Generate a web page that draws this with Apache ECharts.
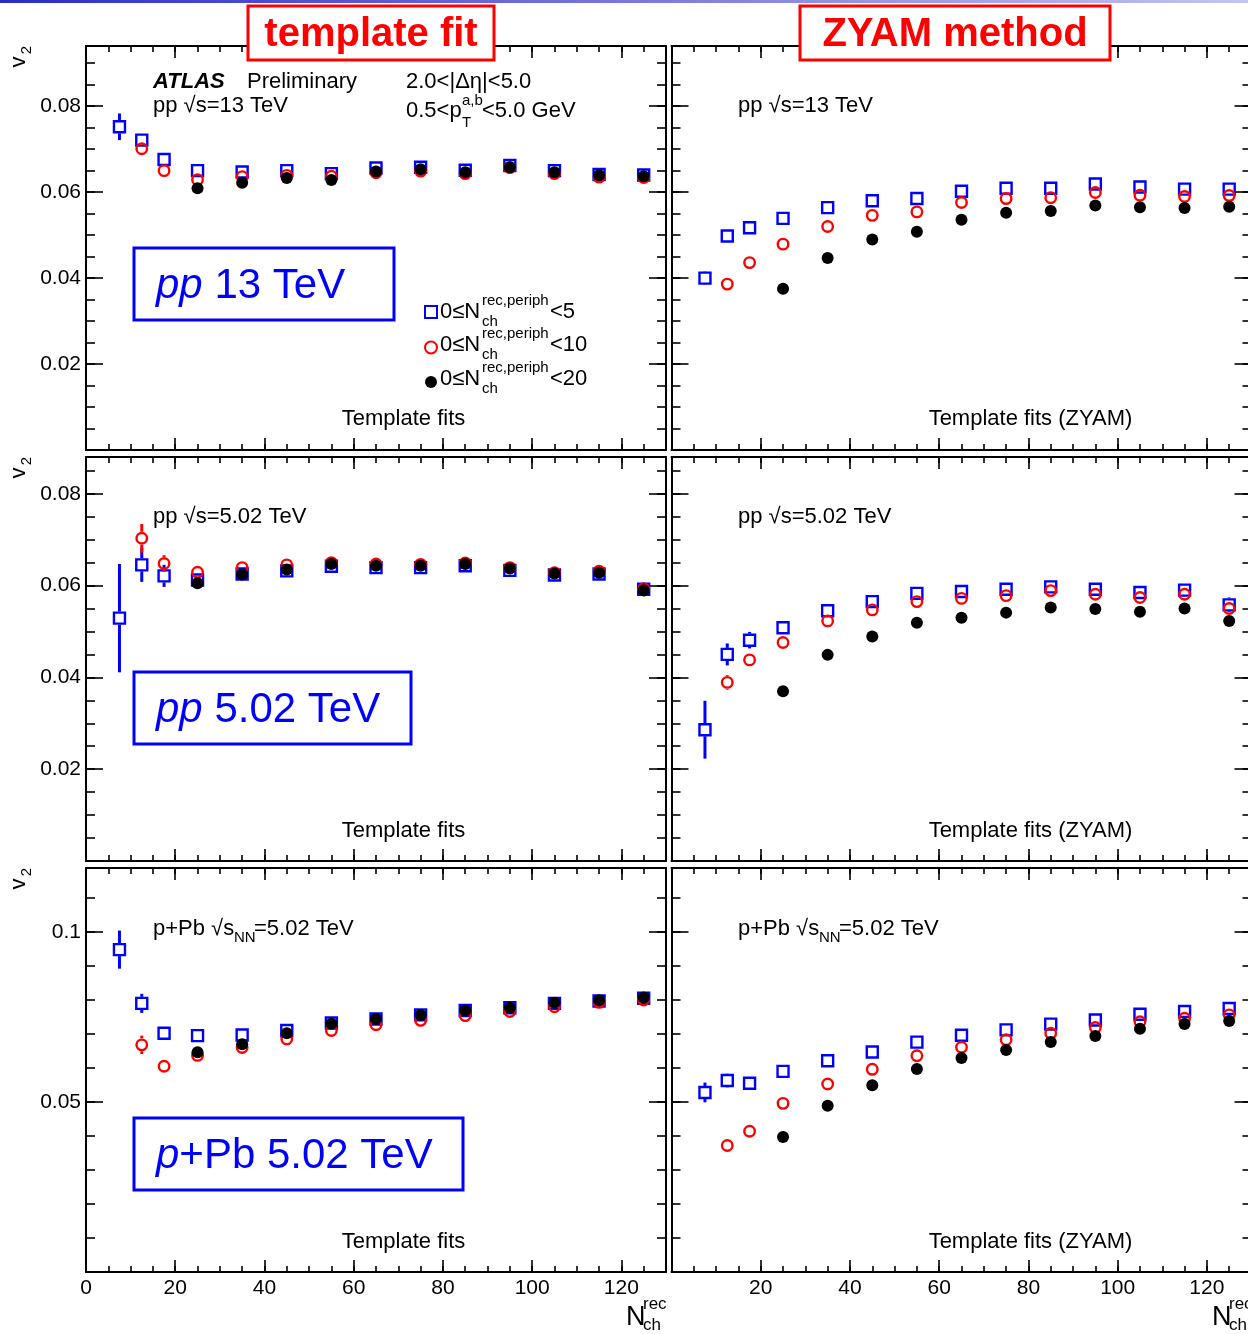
<!DOCTYPE html>
<html><head><meta charset="utf-8">
<script src="https://cdn.jsdelivr.net/npm/echarts@6/dist/echarts.min.js"></script>
<style>html,body{margin:0;padding:0;background:#fff}#c{width:1248px;height:1334px}</style>
</head><body><div id="c"></div>
<script>
// ---------- DATA ----------
const nch = [7.5, 12.5, 17.5, 25, 35, 45, 55, 65, 75, 85, 95, 105, 115, 125];

// pp 13 TeV - template fit
const pp13TF_lt5  = [0.0752, 0.0721, 0.0676, 0.0650, 0.0647, 0.0650, 0.0643, 0.0656, 0.0658, 0.0651, 0.0662, 0.0650, 0.0641, 0.0640];
const pp13TF_lt10 = [null, 0.0701, 0.0650, 0.0629, 0.0636, 0.0639, 0.0637, 0.0645, 0.0649, 0.0643, 0.0657, 0.0643, 0.0635, 0.0634];
const pp13TF_lt20 = [null, null, null, 0.0609, 0.0622, 0.0633, 0.0628, 0.0648, 0.0653, 0.0646, 0.0658, 0.0646, 0.0639, 0.0637];
const pp13TF_lt5_err  = [0.0031, 0.0008, 0, 0, 0, 0, 0, 0, 0, 0, 0, 0, 0, 0];
const pp13TF_lt10_err = [0, 0, 0, 0, 0, 0, 0, 0, 0, 0, 0, 0, 0, 0];
const pp13TF_lt20_err = [0, 0, 0, 0, 0, 0, 0, 0, 0, 0, 0, 0, 0, 0];

// pp 13 TeV - ZYAM
const pp13ZY_lt5  = [0.0400, 0.0498, 0.0517, 0.0539, 0.0564, 0.0580, 0.0585, 0.0602, 0.0609, 0.0609, 0.0619, 0.0612, 0.0607, 0.0607];
const pp13ZY_lt10 = [null, 0.0386, 0.0436, 0.0479, 0.0520, 0.0546, 0.0554, 0.0576, 0.0585, 0.0587, 0.0599, 0.0593, 0.0590, 0.0592];
const pp13ZY_lt20 = [null, null, null, 0.0375, 0.0447, 0.0490, 0.0508, 0.0536, 0.0552, 0.0556, 0.0569, 0.0565, 0.0563, 0.0566];
const pp13ZY_lt5_err  = [0.0016, 0, 0, 0, 0, 0, 0, 0, 0, 0, 0, 0, 0, 0];
const pp13ZY_lt10_err = [0, 0, 0, 0, 0, 0, 0, 0, 0, 0, 0, 0, 0, 0];
const pp13ZY_lt20_err = [0, 0, 0, 0, 0, 0, 0, 0, 0, 0, 0, 0, 0, 0];

// pp 5.02 TeV - template fit
const pp5TF_lt5  = [0.0529, 0.0645, 0.0621, 0.0612, 0.0625, 0.0632, 0.0642, 0.0639, 0.0639, 0.0643, 0.0633, 0.0623, 0.0625, 0.0592];
const pp5TF_lt10 = [null, 0.0703, 0.0648, 0.0629, 0.0639, 0.0645, 0.0650, 0.0647, 0.0646, 0.0649, 0.0639, 0.0628, 0.0631, 0.0593];
const pp5TF_lt20 = [null, null, null, 0.0605, 0.0624, 0.0635, 0.0647, 0.0643, 0.0643, 0.0647, 0.0637, 0.0626, 0.0628, 0.0590];
const pp5TF_lt5_err  = [0.0118, 0.0037, 0.0024, 0.0012, 0, 0, 0, 0, 0, 0, 0, 0, 0, 0.0013];
const pp5TF_lt10_err = [0, 0.0031, 0.0018, 0, 0, 0, 0, 0, 0, 0, 0, 0, 0, 0.0010];
const pp5TF_lt20_err = [0, 0, 0, 0, 0, 0, 0, 0, 0, 0, 0, 0, 0, 0.0015];

// pp 5.02 TeV - ZYAM
const pp5ZY_lt5  = [0.0286, 0.0450, 0.0481, 0.0508, 0.0545, 0.0565, 0.0583, 0.0587, 0.0592, 0.0597, 0.0592, 0.0585, 0.0590, 0.0558];
const pp5ZY_lt10 = [null, 0.0389, 0.0438, 0.0476, 0.0523, 0.0547, 0.0565, 0.0572, 0.0578, 0.0589, 0.0581, 0.0574, 0.0581, 0.0550];
const pp5ZY_lt20 = [null, null, null, 0.0370, 0.0449, 0.0489, 0.0519, 0.0530, 0.0541, 0.0552, 0.0549, 0.0543, 0.0550, 0.0523];
const pp5ZY_lt5_err  = [0.0063, 0.0024, 0.0018, 0.0012, 0, 0, 0, 0, 0, 0, 0, 0, 0, 0.0016];
const pp5ZY_lt10_err = [0, 0.0016, 0, 0, 0, 0, 0, 0, 0, 0, 0, 0, 0, 0];
const pp5ZY_lt20_err = [0, 0, 0, 0, 0, 0, 0, 0, 0, 0, 0, 0, 0, 0.0014];

// p+Pb 5.02 TeV - template fit
const pPbTF_lt5  = [0.0948, 0.0790, 0.0702, 0.0695, 0.0697, 0.0710, 0.0732, 0.0744, 0.0756, 0.0769, 0.0777, 0.0790, 0.0797, 0.0805];
const pPbTF_lt10 = [null, 0.0668, 0.0605, 0.0637, 0.0660, 0.0685, 0.0710, 0.0727, 0.0740, 0.0754, 0.0766, 0.0780, 0.0793, 0.0800];
const pPbTF_lt20 = [null, null, null, 0.0646, 0.0670, 0.0702, 0.0730, 0.0744, 0.0756, 0.0769, 0.0777, 0.0792, 0.0799, 0.0807];
const pPbTF_lt5_err  = [0.0056, 0.0028, 0.0012, 0, 0, 0, 0, 0, 0, 0, 0, 0, 0, 0];
const pPbTF_lt10_err = [0, 0.0027, 0, 0, 0, 0, 0, 0, 0, 0, 0, 0, 0, 0];
const pPbTF_lt20_err = [0, 0, 0, 0, 0, 0, 0, 0, 0, 0, 0, 0, 0, 0];

// p+Pb 5.02 TeV - ZYAM
const pPbZY_lt5  = [0.0528, 0.0563, 0.0555, 0.0590, 0.0621, 0.0647, 0.0676, 0.0696, 0.0712, 0.0729, 0.0741, 0.0758, 0.0766, 0.0775];
const pPbZY_lt10 = [null, 0.0372, 0.0414, 0.0496, 0.0553, 0.0596, 0.0636, 0.0661, 0.0683, 0.0702, 0.0719, 0.0736, 0.0746, 0.0756];
const pPbZY_lt20 = [null, null, null, 0.0397, 0.0489, 0.0549, 0.0597, 0.0629, 0.0653, 0.0676, 0.0694, 0.0715, 0.0729, 0.0738];
const pPbZY_lt5_err  = [0.0029, 0.0020, 0, 0, 0, 0, 0, 0, 0, 0, 0, 0, 0, 0];
const pPbZY_lt10_err = [0, 0, 0, 0, 0, 0, 0, 0, 0, 0, 0, 0, 0, 0];
const pPbZY_lt20_err = [0, 0, 0, 0, 0, 0, 0, 0, 0, 0, 0, 0, 0, 0];

// tick labels
const xTickLabelsLeft  = ['0', '20', '40', '60', '80', '100', '120'];
const xTickLabelsRight = ['20', '40', '60', '80', '100', '120'];
const yTickLabelsPP  = ['0.02', '0.04', '0.06', '0.08'];
const yTickLabelsPPb = ['0.05', '0.1'];

const seriesNames = ['0≤N<5', '0≤N<10', '0≤N<20'];
const legendCuts = ['<5', '<10', '<20'];

// ---------- LAYOUT ----------
const FONT = '"Liberation Sans", Arial, Helvetica, sans-serif';
const rowTop = [46, 457, 868];
const rowH = 404;
const colLeft = [86, 671.5];
const colW = 580;
const rowYMax = [0.094, 0.088, 0.1188];
const rowYMajor = [0.02, 0.02, 0.05];
const rowYMinor = [0.005, 0.005, 0.01];
const rowYLabels = [yTickLabelsPP, yTickLabelsPP, yTickLabelsPPb];

const panels = [
  {row: 0, col: 0, v: [pp13TF_lt5, pp13TF_lt10, pp13TF_lt20], e: [pp13TF_lt5_err, pp13TF_lt10_err, pp13TF_lt20_err]},
  {row: 0, col: 1, v: [pp13ZY_lt5, pp13ZY_lt10, pp13ZY_lt20], e: [pp13ZY_lt5_err, pp13ZY_lt10_err, pp13ZY_lt20_err]},
  {row: 1, col: 0, v: [pp5TF_lt5, pp5TF_lt10, pp5TF_lt20], e: [pp5TF_lt5_err, pp5TF_lt10_err, pp5TF_lt20_err]},
  {row: 1, col: 1, v: [pp5ZY_lt5, pp5ZY_lt10, pp5ZY_lt20], e: [pp5ZY_lt5_err, pp5ZY_lt10_err, pp5ZY_lt20_err]},
  {row: 2, col: 0, v: [pPbTF_lt5, pPbTF_lt10, pPbTF_lt20], e: [pPbTF_lt5_err, pPbTF_lt10_err, pPbTF_lt20_err]},
  {row: 2, col: 1, v: [pPbZY_lt5, pPbZY_lt10, pPbZY_lt20], e: [pPbZY_lt5_err, pPbZY_lt10_err, pPbZY_lt20_err]}
];

const markerStyles = [
  {symbol: 'rect', symbolSize: 11, itemStyle: {color: 'rgba(0,0,0,0)', borderColor: '#0000ff', borderWidth: 2.4, opacity: 1}, err: '#0000ff', errW: 3, z: 3},
  {symbol: 'circle', symbolSize: 10.5, itemStyle: {color: 'rgba(0,0,0,0)', borderColor: '#ff0000', borderWidth: 2.4, opacity: 1}, err: '#ff0000', errW: 3, z: 4},
  {symbol: 'circle', symbolSize: 12, itemStyle: {color: '#000000', borderWidth: 0, opacity: 1}, err: '#000000', errW: 2.5, z: 5}
];

function fmtFactory(labels) {
  return v => { const s = String(+(+v).toFixed(4)); return labels.includes(s) ? s : ''; };
}

const grids = [], xAxes = [], yAxes = [], series = [];
panels.forEach((p, g) => {
  grids.push({left: colLeft[p.col], top: rowTop[p.row], width: colW, height: rowH, containLabel: false, outerBoundsMode: 'none'});
  const showX = p.row === 2;
  const xLabels = p.col === 0 ? xTickLabelsLeft : xTickLabelsRight;
  const mkX = (pos, major, labels) => ({
    type: 'value', gridIndex: g, position: pos, min: 0, max: 130, interval: major ? 20 : 5,
    axisLine: {show: major, onZero: false, lineStyle: {color: '#000', width: 2}},
    axisTick: {show: true, inside: true, length: major ? 12 : 6, lineStyle: {color: '#000', width: 1.6}},
    axisLabel: {show: !!labels, color: '#000', fontSize: 21, fontFamily: FONT, margin: 6,
      formatter: labels ? fmtFactory(labels) : undefined},
    splitLine: {show: false}, minorTick: {show: false}
  });
  const xb = xAxes.length;
  xAxes.push(mkX('bottom', true, showX ? xLabels : null));
  xAxes.push(mkX('bottom', false, null));
  xAxes.push(mkX('top', true, null));
  xAxes.push(mkX('top', false, null));
  const mkY = (pos, major, labels) => ({
    type: 'value', gridIndex: g, position: pos, min: 0, max: rowYMax[p.row],
    interval: major ? rowYMajor[p.row] : rowYMinor[p.row],
    axisLine: {show: major, onZero: false, lineStyle: {color: '#000', width: 2}},
    axisTick: {show: true, inside: true, length: major ? 17 : 9, lineStyle: {color: '#000', width: 1.6}},
    axisLabel: {show: !!labels, color: '#000', fontSize: 21, fontFamily: FONT, margin: 5,
      formatter: labels ? fmtFactory(labels) : undefined},
    splitLine: {show: false}, minorTick: {show: false}
  });
  const yb = yAxes.length;
  yAxes.push(mkY('left', true, p.col === 0 ? rowYLabels[p.row] : null));
  yAxes.push(mkY('left', false, null));
  yAxes.push(mkY('right', true, null));
  yAxes.push(mkY('right', false, null));

  p.v.forEach((vals, k) => {
    const ms = markerStyles[k];
    series.push({
      type: 'scatter', name: seriesNames[k], xAxisIndex: xb, yAxisIndex: yb,
      data: nch.map((x, i) => [x, vals[i]]).filter(d => d[1] != null),
      symbol: ms.symbol, symbolSize: ms.symbolSize, itemStyle: ms.itemStyle, z: ms.z, silent: true
    });
    const errs = p.e[k];
    series.push({
      type: 'custom', name: seriesNames[k] + ' err', xAxisIndex: xb, yAxisIndex: yb, z: ms.z, silent: true,
      encode: {x: 0, y: 1},
      data: nch.map((x, i) => [x, vals[i], errs[i]]).filter(d => d[1] != null && d[2] > 0),
      renderItem: (params, api) => {
        const x = api.value(0), y = api.value(1), e = api.value(2);
        const c = api.coord([x, y]), hi = api.coord([x, y + e]), lo = api.coord([x, y - e]);
        const gap = 6.5, children = [];
        const st = {stroke: ms.err, lineWidth: ms.errW};
        if (c[1] - hi[1] > gap) children.push({type: 'line', shape: {x1: c[0], y1: hi[1], x2: c[0], y2: c[1] - gap}, style: st});
        if (lo[1] - c[1] > gap) children.push({type: 'line', shape: {x1: c[0], y1: c[1] + gap, x2: c[0], y2: lo[1]}, style: st});
        return {type: 'group', children};
      }
    });
  });
});

// ---------- ANNOTATIONS ----------
const G = [];
function txt(text, x, y, size, opts = {}) {
  G.push({type: 'text', x, y, z: 50, silent: true, style: Object.assign({
    text, font: `${opts.style || 'normal'} ${opts.weight || 'normal'} ${size}px ${FONT}`,
    fill: opts.fill || '#000', align: opts.align || 'left', verticalAlign: 'middle',
    textAlign: opts.align || 'left', textVerticalAlign: 'middle'
  }, opts.extra || {})});
}
// top strip
G.push({type: 'rect', silent: true, z: 1, shape: {x: 0, y: 0, width: 1248, height: 3},
  style: {fill: {type: 'linear', x: 0, y: 0, x2: 1, y2: 0, colorStops: [{offset: 0, color: '#2b2bc8'}, {offset: 1, color: '#c4c4f2'}]}}});
// titles
G.push({type: 'rect', silent: true, z: 60, shape: {x: 248, y: 6, width: 246, height: 54}, style: {fill: '#fff', stroke: '#ff0000', lineWidth: 3}});
G.push({type: 'rect', silent: true, z: 60, shape: {x: 800, y: 6, width: 310, height: 54}, style: {fill: '#fff', stroke: '#ff0000', lineWidth: 3}});
G.push({type: 'text', x: 371, y: 35, z: 61, silent: true, style: {text: 'template fit', font: `bold 40px ${FONT}`, fill: '#ff0000', align: 'center', verticalAlign: 'middle', textAlign: 'center', textVerticalAlign: 'middle'}});
G.push({type: 'text', x: 955, y: 35, z: 61, silent: true, style: {text: 'ZYAM method', font: `bold 40px ${FONT}`, fill: '#ff0000', align: 'center', verticalAlign: 'middle', textAlign: 'center', textVerticalAlign: 'middle'}});

// v2 labels
rowTop.forEach(t => {
  G.push({type: 'group', x: 19, y: t + 16, rotation: Math.PI / 2, silent: true, children: [
    {type: 'text', x: 0, y: 0, style: {text: 'v', font: `22px ${FONT}`, fill: '#000', align: 'center', verticalAlign: 'middle', textAlign: 'center', textVerticalAlign: 'middle'}},
    {type: 'text', x: 12, y: 8, style: {text: '2', font: `15px ${FONT}`, fill: '#000', align: 'center', verticalAlign: 'middle', textAlign: 'center', textVerticalAlign: 'middle'}}
  ]});
});
// x axis titles
[626, 1212].forEach(x0 => {
  txt('N', x0, 1318, 27);
  txt('rec', x0 + 17, 1304, 17);
  txt('ch', x0 + 17, 1325, 17);
});

// panel 1 header
txt('ATLAS', 153, 82, 22, {style: 'italic', weight: 'bold'});
txt('Preliminary', 247, 82, 22);
txt('2.0<|Δη|<5.0', 406, 82, 22);
txt('0.5<p', 406, 111, 22);
txt('a,b', 462, 101, 15);
txt('T', 462, 123, 15);
txt('<5.0 GeV', 482, 111, 22);
// energy labels
[153, 738].forEach(x0 => {
  txt('pp √s=13 TeV', x0, 106, 22);
  txt('pp √s=5.02 TeV', x0, 517, 22);
  txt('p+Pb √s', x0, 929, 22);
  txt('NN', x0 + 81, 938, 15);
  txt('=5.02 TeV', x0 + 101, 929, 22);
});
// method labels
[419, 831, 1242].forEach(y => {
  txt('Template fits', 403.5, y, 22, {align: 'center'});
  txt('Template fits (ZYAM)', 1030.5, y, 22, {align: 'center'});
});
// legend texts
[311, 344, 378].forEach((y, k) => {
  txt('0≤N', 440, y + 1, 22);
  txt('rec,periph', 482, y - 10, 15);
  txt('ch', 482, y + 11, 15);
  txt(legendCuts[k], 550, y + 1, 22);
});
// blue boxes
const boxes = [
  {x: 134, y: 248, w: 260, h: 72, it: 'pp', rest: ' 13 TeV'},
  {x: 134, y: 672, w: 277, h: 72, it: 'pp', rest: ' 5.02 TeV'},
  {x: 134, y: 1118, w: 329, h: 72, it: 'p', rest: '+Pb 5.02 TeV'}
];
boxes.forEach(b => {
  G.push({type: 'rect', silent: true, z: 40, shape: {x: b.x, y: b.y, width: b.w, height: b.h}, style: {fill: 'none', stroke: '#0000ff', lineWidth: 3}});
  G.push({type: 'text', x: b.x + 22, y: b.y + b.h / 2 + 2, z: 41, silent: true, style: {
    text: `{i|${b.it}}{n|${b.rest}}`, align: 'left', verticalAlign: 'middle', textAlign: 'left', textVerticalAlign: 'middle',
    rich: {i: {fontStyle: 'italic', fontSize: 42, fontFamily: FONT, fill: '#0000ff', color: '#0000ff'},
           n: {fontSize: 42, fontFamily: FONT, fill: '#0000ff', color: '#0000ff'}}
  }});
});

const chart = echarts.init(document.getElementById('c'), null, {renderer: 'canvas'});
chart.setOption({
  animation: false,
  backgroundColor: '#fff',
  textStyle: {fontFamily: FONT},
  grid: grids,
  xAxis: xAxes,
  yAxis: yAxes,
  legend: {data: seriesNames, orient: 'vertical', left: 424, top: 305, padding: 0,
    itemWidth: 12, itemHeight: 12, itemGap: 21.5, selectedMode: false,
    formatter: () => '', textStyle: {fontSize: 10, lineHeight: 12}},
  series,
  graphic: {elements: G}
});
</script>
</body></html>
